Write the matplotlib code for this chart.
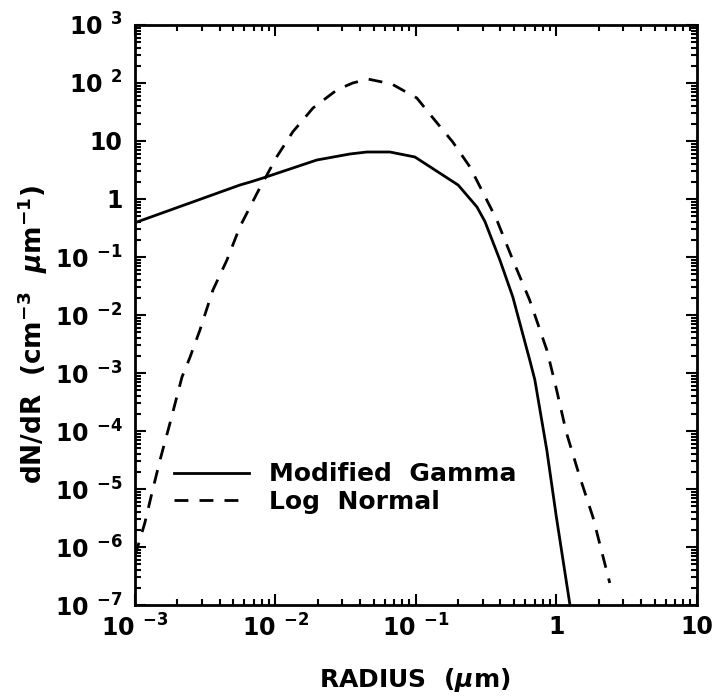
import numpy as np
import matplotlib
matplotlib.use('Agg')
import matplotlib.pyplot as plt
from matplotlib.ticker import LogLocator, FixedLocator, FixedFormatter, NullFormatter

plt.rcParams['font.family'] = ['DejaVu Sans']
plt.rcParams['font.weight'] = 'bold'
plt.rcParams['mathtext.fontset'] = 'dejavusans'
plt.rcParams['mathtext.default'] = 'bf'

# modified gamma (solid)
gamma_r = [1e-3, 0.00558, 0.0066, 0.00815, 0.0197, 0.0339, 0.0448, 0.0653, 0.0984,
           0.2, 0.272, 0.31, 0.396, 0.49, 0.647, 0.703, 0.855, 1.0, 1.25]
gamma_n = [0.39, 1.74, 1.96, 2.3, 4.7, 5.97, 6.46, 6.46, 5.3,
           1.74, 0.73, 0.41, 0.089, 0.0204, 1.66e-3, 7.6e-4, 4.7e-5, 3.3e-6, 1e-7]

# log normal (dashed)
lognorm_r = [1e-3, 0.001175, 0.00132, 0.00151, 0.00178, 0.00216, 0.00245, 0.0029,
             0.00359, 0.00452, 0.00558, 0.0074, 0.0102, 0.0133, 0.0185, 0.0274,
             0.0355, 0.0434, 0.0455, 0.0674, 0.1016, 0.136, 0.183, 0.242, 0.302,
             0.376, 0.49, 0.646, 0.855, 0.977, 1.18, 1.47, 1.82, 2.4]
lognorm_n = [7e-7, 2.6e-6, 8.5e-6, 3.2e-5, 1.4e-4, 8.5e-4, 1.8e-3, 5.5e-3,
             0.027, 0.089, 0.33, 1.26, 5.3, 14.4, 37, 76,
             100, 113, 117, 96, 55, 23, 9.6, 3.6, 1.26,
             0.44, 0.089, 0.018, 2.5e-3, 6.8e-4, 9.3e-5, 1.6e-5, 3.3e-6, 2.4e-7]

x_ticks = [1e-3, 1e-2, 1e-1, 1, 10]
x_labels = ['10 $^{-3}$', '10 $^{-2}$', '10 $^{-1}$', '1', '10']
y_ticks = [1e-7, 1e-6, 1e-5, 1e-4, 1e-3, 1e-2, 1e-1, 1, 10, 1e2, 1e3]
y_labels = ['10 $^{-7}$', '10 $^{-6}$', '10 $^{-5}$', '10 $^{-4}$', '10 $^{-3}$',
            '10 $^{-2}$', '10 $^{-1}$', '1', '10', '10 $^{2}$', '10 $^{3}$']

fig = plt.figure(figsize=(7.13, 6.98), dpi=100)
ax = fig.add_axes([0.1893, 0.1332, 0.788, 0.831])

ax.plot(gamma_r, gamma_n, color='black', lw=2, solid_joinstyle='round',
        label='Modified  Gamma')
ax.plot(lognorm_r, lognorm_n, color='black', lw=2, dashes=(5, 4),
        label='Log  Normal')

ax.set_xscale('log')
ax.set_yscale('log')
ax.set_xlim(1e-3, 10)
ax.set_ylim(1e-7, 1e3)

ax.xaxis.set_major_locator(FixedLocator(x_ticks))
ax.xaxis.set_major_formatter(FixedFormatter(x_labels))
ax.yaxis.set_major_locator(FixedLocator(y_ticks))
ax.yaxis.set_major_formatter(FixedFormatter(y_labels))
ax.xaxis.set_minor_locator(LogLocator(base=10, subs=np.arange(2, 10), numticks=20))
ax.yaxis.set_minor_locator(LogLocator(base=10, subs=np.arange(2, 10), numticks=20))
ax.xaxis.set_minor_formatter(NullFormatter())
ax.yaxis.set_minor_formatter(NullFormatter())

ax.tick_params(which='both', direction='in', top=True, right=True, width=1.5)
ax.tick_params(which='major', length=8, labelsize=17)
ax.tick_params(axis='y', which='major', pad=9)
ax.tick_params(axis='x', which='major', pad=7)
ax.tick_params(which='minor', length=4)
for sp in ax.spines.values():
  sp.set_linewidth(2)

ax.set_xlabel('RADIUS  ($\\mathit{\\mu}$m)', fontsize=18, fontweight='bold')
ax.set_ylabel('dN/dR  (cm$^{-3}$  $\\mathit{\\mu}$m$^{-1}$)', fontsize=19, fontweight='bold')
ax.xaxis.set_label_coords(0.498, -0.105)
ax.yaxis.set_label_coords(-0.152, 0.466)

ax.legend(loc='upper left', bbox_to_anchor=(0.052, 0.263), frameon=False, fontsize=18,
          handlelength=3.0, handletextpad=0.8, labelspacing=0.15, borderaxespad=0)

fig.savefig('out.png', dpi=100)
